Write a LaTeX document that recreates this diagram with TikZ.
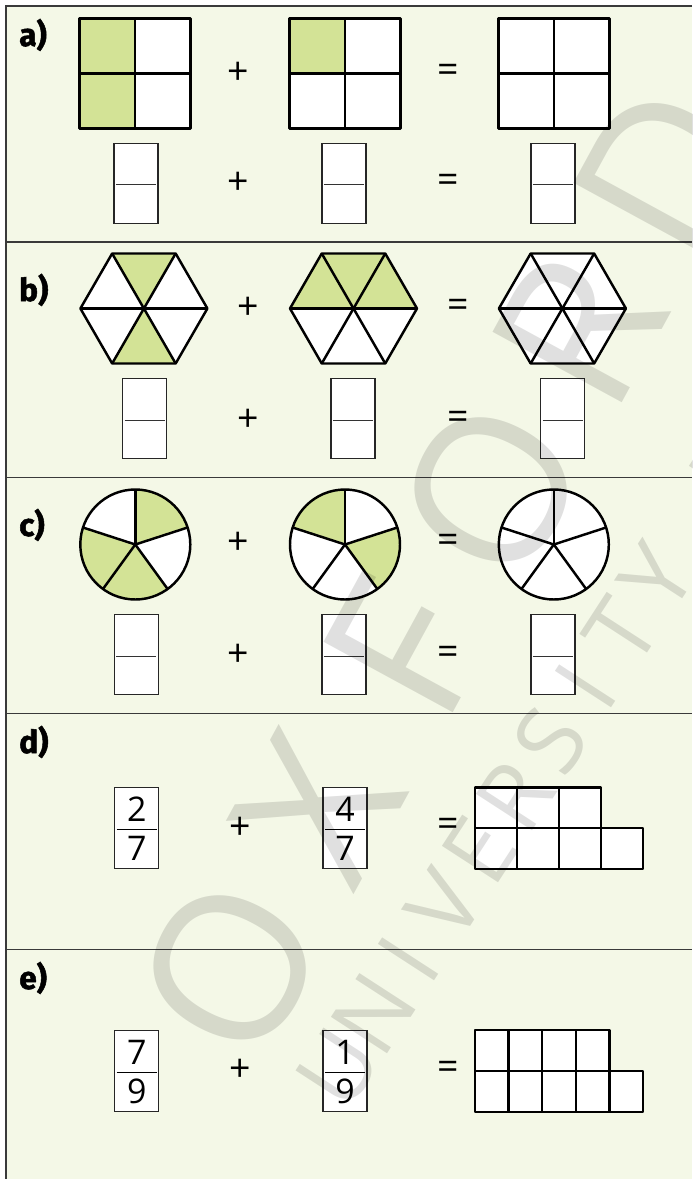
\documentclass[tikz,border=0pt]{standalone}
\usepackage{fontspec}
\setmainfont{Open Sans}
\newfontfamily\labfont{Fira Sans}[BoldFeatures={FakeBold=1.6}]
\usetikzlibrary{calc}
\definecolor{paper}{HTML}{F4F8E7}
\definecolor{leaf}{HTML}{D3E396}
\definecolor{rule}{HTML}{3A3A3A}
\tikzset{
  cell/.style={draw=black,line width=2.1pt,line join=round},
  ansbox/.style={draw=black!85,fill=white,line width=1pt,minimum width=1.32cm,minimum height=2.4cm,inner sep=0pt},
  bar/.style={draw=black!80,line width=0.8pt},
  op/.style={font=\fontsize{32}{36}\selectfont,inner sep=0pt},
  num/.style={font=\fontsize{29}{34}\selectfont,inner sep=0pt},
  lab/.style={font=\labfont\bfseries\fontsize{27}{30}\selectfont,anchor=base west,inner sep=0pt},
  wm/.style={text=black,text opacity=0.12,inner sep=0pt}
}
\begin{document}
\begin{tikzpicture}[x=0.03cm,y=-0.03cm]
  \useasboundingbox (0,0) rectangle (692,1179);
  \fill[paper] (6,6) rectangle (692,1179);
  \draw[rule,line width=1.2pt] (692,6) -- (6,6) -- (6,1179);
  \foreach \y in {242,477.6,713.7,949.7}{\draw[rule,line width=1.2pt] (6,\y) -- (692,\y);}

  % part labels
  \node[lab] (la) at (19,46) {a)};
  \node[lab] (lb) at (19,301) {b)};
  \node[lab] (lc) at (19,536) {c)};
  \node[lab] (ld) at (19,753) {d)};
  \node[lab] (le) at (19,989) {e)};

  % a) squares
  \foreach \x/\s in {79.5/1,289.5/2,498.7/0}{
    \fill[white] (\x,18.3) rectangle ++(111,110);
    \ifnum\s=1 \fill[leaf] (\x,18.3) rectangle ++(55.5,110);\fi
    \ifnum\s=2 \fill[leaf] (\x,18.3) rectangle ++(55.5,55);\fi
    \draw[cell] (\x,18.3) rectangle ++(111,110) (\x+55.5,18.3) -- ++(0,110) (\x,73.3) -- ++(111,0);
  }

  % b) hexagons
  \foreach \n/\x/\cols in {h1/143.9/{white,leaf,white,white,leaf,white},h2/353.5/{white,white,white,leaf,leaf,leaf},h3/562.4/{white,white,white,white,white,white}}{
    \coordinate (\n) at (\x,308.5);
    \foreach \c [count=\k from 0] in \cols
      \fill[\c] (\n) -- ($(\n)+(\k*60:63.5)$) -- ($(\n)+(\k*60+60:63.5)$) -- cycle;
    \draw[cell] ($(\n)+(0:63.5)$) foreach \a in {60,120,...,300}{-- ($(\n)+(\a:63.5)$)} -- cycle;
    \foreach \a in {0,60,120} \draw[cell] ($(\n)+(\a:63.5)$) -- ($(\n)+(\a+180:63.5)$);
  }

  % c) pies
  \foreach \n/\x/\cols in {p1/135.3/{leaf,white,leaf,leaf,white},p2/345/{white,leaf,white,white,leaf},p3/553.8/{white,white,white,white,white}}{
    \coordinate (\n) at (\x,544.5);
    \foreach \c [count=\k from 0] in \cols
      \fill[\c] (\n) -- ($(\n)+(-90+72*\k:55)$) arc[start angle=-90+72*\k,delta angle=72,radius=55] -- cycle;
    \draw[cell] (\n) circle[radius=55];
    \foreach \a in {-90,-18,54,126,198} \draw[cell] (\n) -- ($(\n)+(\a:55)$);
  }

  % empty answer boxes
  \foreach \n/\x/\y in {a1/136/183.3,a2/344/183.3,a3/553/183.3,b1/144.7/418.7,b2/353/418.7,b3/562.6/418.7,c1/136.2/654.5,c2/344/654.5,c3/553/654.5}{
    \node[ansbox] (\n) at (\x,\y) {};
    \draw[bar] ($(\n.west)+(2.5,1.5)$) -- ($(\n.east)+(-2.5,1.5)$);
  }

  % given fractions
  \foreach \n/\x/\y/\p/\q in {d1/136.8/828/2/7,d2/345/828/4/7,e1/136.8/1071/7/9,e2/345/1071/1/9}{
    \node[ansbox,minimum height=2.44cm] (\n) at (\x,\y) {};
    \draw[bar,draw=black,line width=1pt] ($(\n.west)+(2.5,1.5)$) -- ($(\n.east)+(-2.5,1.5)$);
    \node[num] (\n-top) at ($(\n)+(0,-18.5)$) {\p};
    \node[num] (\n-bot) at ($(\n)+(0,20)$) {\q};
  }

  % plus and equals
  \foreach \n/\t/\x/\y in {pa/+/238/73,ea/=/448/73,pa2/+/238/183,ea2/=/448/183,
      pb/+/248.5/308,eb/=/458/308,pb2/+/248.5/420,eb2/=/458/420,
      pc/+/238.3/543.5,ec/=/448/543.5,pc2/+/238.3/655,ec2/=/448/655,
      pd/+/240.5/828,ed/=/448/827.5,pe/+/240.5/1070,ee/=/448/1070}
    \node[op] (\n) at (\x,\y) {\t};

  % d) and e) bars
  \foreach \i in {0,1,2} \draw[cell,fill=white] (475+42*\i,787.5) rectangle ++(42,40.75);
  \foreach \i in {0,...,3} \draw[cell,fill=white] (475+42*\i,828.25) rectangle ++(42,40.75);
  \foreach \i in {0,...,3} \draw[cell,fill=white] (475+33.6*\i,1030) rectangle ++(33.6,41);
  \foreach \i in {0,...,4} \draw[cell,fill=white] (475+33.6*\i,1071) rectangle ++(33.6,41);

  % watermark
  \begin{scope}
    \clip (6,6) rectangle (692,1179);
    \foreach \l [count=\i from 0] in {O,X,F,O,R,D}
      \node[wm,font=\fontsize{176}{176}\selectfont,rotate=61.4] (ox\i) at ($(230,968)+(\i*87,-\i*159.6)$) {\l};
    \foreach \l [count=\i from 0] in {U,N,I,V,E,R,S,I,T,Y,{},P,R,E,S,S}
      \node[wm,font=\fontsize{80}{80}\selectfont,rotate=57] (up\i) at ($(338,1068)+(\i*35.4,-\i*54.5)$) {\l};
  \end{scope}
\end{tikzpicture}
\end{document}
